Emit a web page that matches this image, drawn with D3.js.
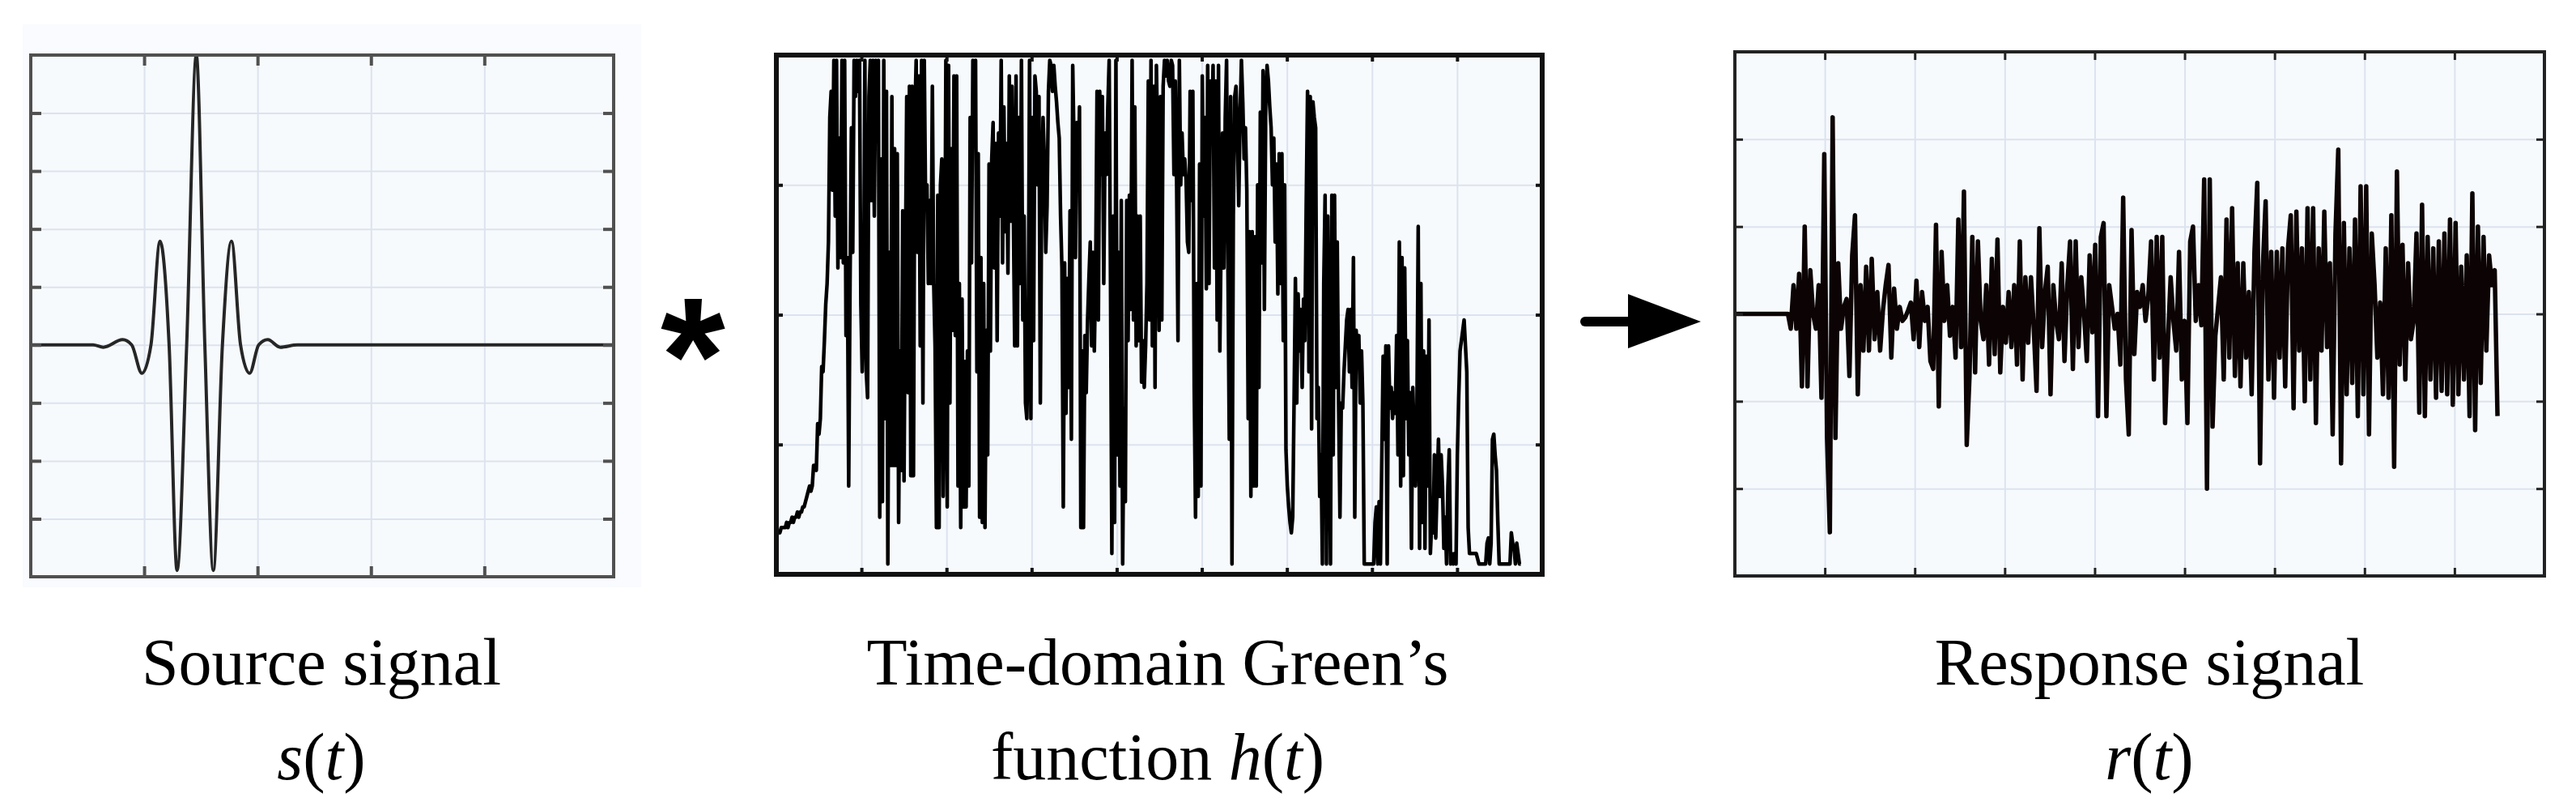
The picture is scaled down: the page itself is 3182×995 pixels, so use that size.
<!DOCTYPE html>
<html>
<head>
<meta charset="utf-8">
<script src="https://cdn.jsdelivr.net/npm/d3@7"></script>
<style>
  html, body { margin: 0; background: #fff; }
  svg { display: block; }
  .label { font-family: "Liberation Serif", "Times New Roman", serif; font-size: 82px; fill: #000; }
</style>
</head>
<body>
<svg id="chart" width="3182" height="995"></svg>
<script>
// source wavelet s(t): time in grid units, amplitude in grid units
const sourceTime = [0, 0.55, 0.64, 0.81, 0.89, 0.98, 1.06, 1.14, 1.22, 1.29, 1.375, 1.46, 1.535, 1.61, 1.69, 1.77, 1.85, 1.93, 2.01, 2.09, 2.2, 2.35, 5.14];
const sourceAmp  = [0, 0, -0.04, 0.09, 0, -0.49, 0, 1.79, 0, -3.89, 0, 5, 0, -3.89, 0, 1.79, 0, -0.49, 0, 0.09, -0.04, 0, 0];

// Green's function h(t): evenly sampled, amplitude in % of full scale (clipped at 100)
const greenT0 = 0.0095, greenDt = 0.01586;
const greenAmp = [
  8,8,8,9,9,9,9,10,9,10, 10,11,10,11,11,12,11,12,12,13, 13,14,15,16,17,16,17,21,21,20,
  29,27,30,40,39,45,52,56,64,88, 93,
  74,99,69,99,59,84,61,99,60,99, 46,61,17,56,86,62,99,92,99,93,
  99,52,39,49,99,39,34,92,99,72, 99,69,99,92,99,11,80,14,99,30,
  93,2,62,21,92,21,82,21,81,10, 43,20,70,18,59,92,35,94,19,94,
  19,88,99,62,96,44,99,33,99,71, 75,56,72,56,94,56,44,9,73,9,
  75,80,15,41,99,13,98,33,82,47, 96,46,96,17,56,9,53,13,41,13,
  43,17,88,60,99,90,99,39,81,11, 61,10,56,9,47,23,79,43,80,87,
  59,83,45,85,69,99,60,90,66,83, 58,96,68,94,70,44,96,44,88,56,
  99,49,69,33,30,44,99,30,88,45, 96,93,75,92,33,73,88,80,62,71,
  93,99,98,93,98,94,91,87,84,69, 59,13,60,31,57,36,70,26,98,82,
  61,87,75,90,9,43,9,46,35,49, 57,64,44,62,43,58,93,49,93,77,
  92,56,85,77,90,99,56,4,69,10, 99,23,62,17,72,2,32,14,72,45,
  73,51,99,49,90,44,69,45,69,37, 45,36,44,56,95,49,99,44,94,36, 98,
  82,47,92,49,94,99,96,99,95,94, 99,98,77,95,75,45,99,75,85,77,
  80,76,64,62,93,72,93,36,11,56, 15,79,17,96,69,88,55,98,56,95,
  86,98,59,95,49,98,43,66,85,59, 88,99,59,26,92,2,69,92,94,85,
  71,88,99,91,80,86,74,30,66,15, 66,17,65,17,75,36,89,60,97,51,
  90,98,95,90,86,75,84,64,79,54, 81,56,81,45,75,24,17,13,10,8,
  11,33,57,33,54,43,51,36,53,45, 71,93,39,92,28,91,88,86,30,36,
  15,23,2,56,73,2,69,36,2,73, 23,73,36,64,33,11,33,32,39,44,
  49,51,39,51,36,61,11,47,43,46, 33,43,33,2,2,2,2,2,2,2,
  2,10,13,2,14,2,22,42,26,44, 2,44,32,36,30,35,31,46,23,64,
  17,61,19,59,30,45,23,35,5,36, 26,17,30,67,5,56,10,43,5,42,
  17,49,4,10,8,23,7,17,26,15, 23,17,5,11,2,17,24,2,4,2,
  4,2,23,34,43,45,47,49,44,39, 9,4,4,4,4,4,4,3,2,2,
  2,2,2,2,6,7,2,6,26,27, 23,20,10,2,2,2,2,2,2,2,
  2,2,8,6,5,2,6,4,2,2];
const greenTime = greenAmp.map((_, i) => greenT0 + i * greenDt);

// response r(t): evenly sampled, dt in grid units
const responseDt = 5 / 161;
const responseAmp = [0,0,0,0,0,0,0,0,0,0,0,0,0,0,0,0,0,0,0,0,
  -0.17,0.33,-0.17,0.46,-0.83,1.00,-0.83,0.50,0,-0.17,
  0.33,-0.96,1.83,-1.42,-2.50,2.25,-1.42,0.58,-0.17,0.08,
  0.17,-0.71,0.67,1.13,-0.92,0.33,-0.42,0.54,-0.42,0.63,
  -0.29,0.25,-0.42,0.04,0.33,0.56,-0.50,0.29,-0.17,0.08,
  -0.08,-0.04,0.04,0.13,-0.29,0.38,-0.38,0.25,-0.08,0.08,
  -0.54,-0.63,1.02,-1.06,0.71,-0.08,0.33,-0.25,0.08,-0.50,
  1.08,-0.38,1.40,-1.50,-0.71,0.88,-0.67,0.83,-0.08,-0.29,
  0.33,-0.58,0.63,-0.46,0.85,-0.67,0.08,-0.33,0.25,-0.38,
  0.33,-0.58,0.83,-0.75,0.42,-0.33,0.42,-0.17,-0.88,0.98,
  -0.38,0.25,0.54,-0.92,0.33,-0.08,-0.29,0.58,-0.54,0.33,
  0.83,-0.63,0.83,-0.38,0.42,0,-0.54,0.67,-0.21,0.79,
  -1.17,0.88,1.04,-1.17,0.33,0.08,-0.17,0,-0.58,1.33,
  -0.75,-1.38,0.96,-0.46,0.25,0.08,0.33,-0.08,0.21,0.83,
  -0.75,0.88,-0.50,0.88,-1.25,-0.33,0.42,-0.08,-0.42,0.71,
  -0.75,-0.08,-1.25,0.83,1.00,-0.08,0.33,-0.13,1.54,-2.00,
  1.54,-1.29,-0.25,0.08,0.42,-0.75,1.08,-0.50,1.21,-0.71,
  0.58,-0.83,0.58,-0.50,0.25,-0.92,0.71,1.50,-1.71,0.54,
  1.29,-0.75,0.71,-0.96,0.71,-0.50,0.75,-0.83,0.75,1.13,
  -1.08,1.17,-0.42,0.75,-1.00,1.21,-0.75,1.21,-1.25,0.75,
  -0.42,1.17,-0.38,0.58,-1.38,0.92,1.88,-1.71,1.04,-0.92,
  0.75,-0.79,1.08,-1.17,1.46,-0.92,1.46,-1.38,0.92,0.33,
  -0.50,0.13,-0.92,0.75,-0.96,1.13,-1.75,1.63,-0.58,0.79,
  -0.75,0.58,-0.29,-0.08,0.92,-1.13,1.25,-1.17,0.88,-0.75,
  0.75,-0.96,0.83,-0.88,0.92,-0.92,1.08,-1.04,1.04,-0.92,
  0.54,-0.75,0.67,-1.17,1.38,-1.33,1.00,-0.79,0.88,-0.42,
  0.67,0.33,0.50,-1.17];
const responseTime = responseAmp.map((_, i) => i * responseDt);

// grid positions
const sourceXTicks = [1, 2, 3, 4], sourceYTicks = [-3, -2, -1, 0, 1, 2, 3, 4];
const greenXTicks = [1, 2, 3, 4, 5, 6, 7, 8], greenYTicks = [25, 50, 75];
const responseXTicks = [1, 2, 3, 4, 5, 6, 7, 8], responseYTicks = [-2, -1, 0, 1, 2];

const captions = [
  { x: 397, lines: [[["Source signal", false]], [["s", true], ["(", false], ["t", true], [")", false]]] },
  { x: 1430, lines: [[["Time-domain Green\u2019s", false]], [["function ", false], ["h", true], ["(", false], ["t", true], [")", false]]] },
  { x: 2655, lines: [[["Response signal", false]], [["r", true], ["(", false], ["t", true], [")", false]]] }
];

const svg = d3.select("#chart");
svg.append("rect").attr("width", 3182).attr("height", 995).attr("fill", "#fff");
const panelFill = "#f7fafd", gridColor = "#dce3ee";

// pale backdrop behind the first plot (it was pasted in as a picture)
svg.append("rect").attr("x", 28).attr("y", 30).attr("width", 764).attr("height", 695).attr("fill", "#f9fbfe");

function drawPanel(p) {
  const x = d3.scaleLinear().domain(p.xDomain).range([p.left, p.right]);
  const y = d3.scaleLinear().domain(p.yDomain).range([p.bottom, p.top]);
  const w = p.right - p.left, h = p.bottom - p.top;
  const g = svg.append("g");

  g.append("rect").attr("x", p.left).attr("y", p.top).attr("width", w).attr("height", h).attr("fill", panelFill);

  const clean = a => a.call(s => s.select(".domain").remove());
  g.append("g").attr("transform", `translate(0,${p.top})`)
    .call(d3.axisBottom(x).tickValues(p.xTicks).tickSize(h).tickFormat(""))
    .call(clean)
    .call(a => a.selectAll("line").attr("stroke", gridColor).attr("stroke-width", 2));
  g.append("g").attr("transform", `translate(${p.left},0)`)
    .call(d3.axisRight(y).tickValues(p.yTicks).tickSize(w).tickFormat(""))
    .call(clean)
    .call(a => a.selectAll("line").attr("stroke", gridColor).attr("stroke-width", 2));

  svg.append("clipPath").attr("id", "clip-" + p.name)
    .append("rect").attr("x", p.left).attr("y", p.top).attr("width", w).attr("height", h);

  const line = d3.line().x(d => x(d[0])).y(d => y(d[1])).curve(p.curve || d3.curveLinear);
  g.append("path")
    .datum(d3.zip(p.time, p.amp))
    .attr("clip-path", `url(#clip-${p.name})`)
    .attr("fill", "none")
    .attr("stroke", p.lineColor)
    .attr("stroke-width", p.lineWidth)
    .attr("stroke-linejoin", "round")
    .attr("d", line);

  // short inward ticks on every side
  const tick = (axis, tr) => g.append("g").attr("transform", tr)
    .call(axis.tickFormat("").tickSizeOuter(0))
    .call(clean)
    .call(a => a.selectAll("line").attr("stroke", p.frameColor).attr("stroke-width", p.tickWidth));
  tick(d3.axisBottom(x).tickValues(p.xTicks).tickSize(p.tickLen), `translate(0,${p.top})`);
  tick(d3.axisTop(x).tickValues(p.xTicks).tickSize(p.tickLen), `translate(0,${p.bottom})`);
  tick(d3.axisRight(y).tickValues(p.yTicks).tickSize(p.tickLen), `translate(${p.left},0)`);
  tick(d3.axisLeft(y).tickValues(p.yTicks).tickSize(p.tickLen), `translate(${p.right},0)`);

  g.append("rect").attr("x", p.left).attr("y", p.top).attr("width", w).attr("height", h)
    .attr("fill", "none").attr("stroke", p.frameColor).attr("stroke-width", p.frameWidth);
}

drawPanel({
  name: "source", left: 38, right: 758, top: 68, bottom: 712,
  xDomain: [0, 5.14], yDomain: [-4, 5], xTicks: sourceXTicks, yTicks: sourceYTicks,
  time: sourceTime, amp: sourceAmp, curve: d3.curveMonotoneX,
  lineColor: "#262626", lineWidth: 4,
  frameColor: "#505050", frameWidth: 4, tickLen: 13, tickWidth: 4
});

drawPanel({
  name: "green", left: 959, right: 1905, top: 68, bottom: 709,
  xDomain: [0, 9], yDomain: [0, 100], xTicks: greenXTicks, yTicks: greenYTicks,
  time: greenTime, amp: greenAmp,
  lineColor: "#000", lineWidth: 4.5,
  frameColor: "#111", frameWidth: 6, tickLen: 8, tickWidth: 4
});

drawPanel({
  name: "response", left: 2143, right: 3143, top: 64, bottom: 711,
  xDomain: [0, 9], yDomain: [-3, 3], xTicks: responseXTicks, yTicks: responseYTicks,
  time: responseTime, amp: responseAmp,
  lineColor: "#0c0404", lineWidth: 5.5,
  frameColor: "#222", frameWidth: 4, tickLen: 10, tickWidth: 3
});

// convolution sign and arrow
svg.append("text")
  .attr("x", 856).attr("y", 510)
  .attr("text-anchor", "middle")
  .style("font-family", "'Liberation Sans', Arial, sans-serif")
  .style("font-weight", "bold")
  .style("font-size", "205px")
  .text("*");

svg.append("line")
  .attr("x1", 1958).attr("y1", 397).attr("x2", 2020).attr("y2", 397)
  .attr("stroke", "#000").attr("stroke-width", 12).attr("stroke-linecap", "round");
svg.append("path")
  .attr("d", d3.line()([[2011, 363], [2101, 397], [2011, 430]]) + "Z")
  .attr("fill", "#000");

// captions
const baselines = [845, 962];
captions.forEach(c => {
  c.lines.forEach((parts, i) => {
    const t = svg.append("text").attr("class", "label")
      .attr("x", c.x).attr("y", baselines[i]).attr("text-anchor", "middle");
    parts.forEach(([s, it]) => t.append("tspan").style("font-style", it ? "italic" : "normal").text(s));
  });
});
</script>
</body>
</html>
